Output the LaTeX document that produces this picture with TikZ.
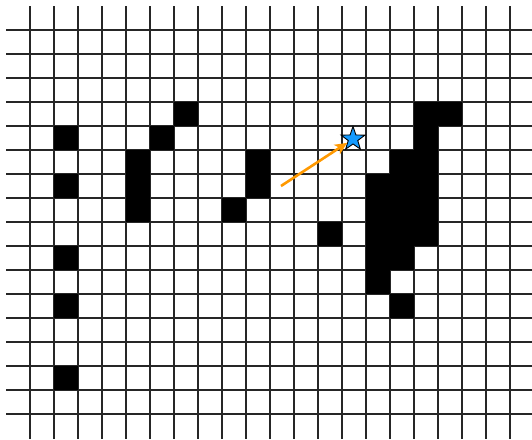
\documentclass[tikz,border=0pt]{standalone}
\usetikzlibrary{shapes.geometric,arrows.meta}
\definecolor{starblue}{RGB}{20,155,255}
\definecolor{arroworange}{RGB}{255,153,0}
\tikzset{
  gridline/.style={line width=1.4pt,black!85},
  cell/.style={fill=black},
  goal/.style={star,star points=5,star point ratio=2.5,minimum size=25pt,inner sep=0pt,fill=starblue,draw=black,line width=0.9pt},
  agentarrow/.style={draw=arroworange,line width=2.6pt,-{Stealth[length=12pt,width=11pt,inset=3pt]}}
}
\begin{document}
\begin{tikzpicture}[x=1pt,y=-1pt]
\useasboundingbox (0,0) rectangle (532,439);
\fill[white] (0,0) rectangle (532,439);
% grid
\foreach \yy in {30,54,...,414} \draw[gridline] (6,\yy) -- (532,\yy);
\foreach \xx in {30,54,...,510} \draw[gridline] (\xx,6) -- (\xx,439);
% black cells (left x, top y, right x, bottom y)
\foreach \x/\y/\X/\Y in {
  54/126/78/150, 54/174/78/198, 54/246/78/270, 54/294/78/318, 54/366/78/390,
  126/150/150/222, 150/126/174/150, 174/102/198/126,
  246/150/270/198, 222/198/246/222,
  318/222/342/246,
  414/102/462/126, 414/126/438/150, 390/150/438/174, 366/174/438/246,
  366/246/414/270, 366/270/390/294, 390/294/414/318}
  \fill[cell] (\x,\y) rectangle (\X,\Y);
% goal star and arrow
\node[goal] (goalstar) at (353,139) {};
\coordinate (agent) at (281,186);
\draw[agentarrow] (agent) -- (goalstar);
\end{tikzpicture}
\end{document}
